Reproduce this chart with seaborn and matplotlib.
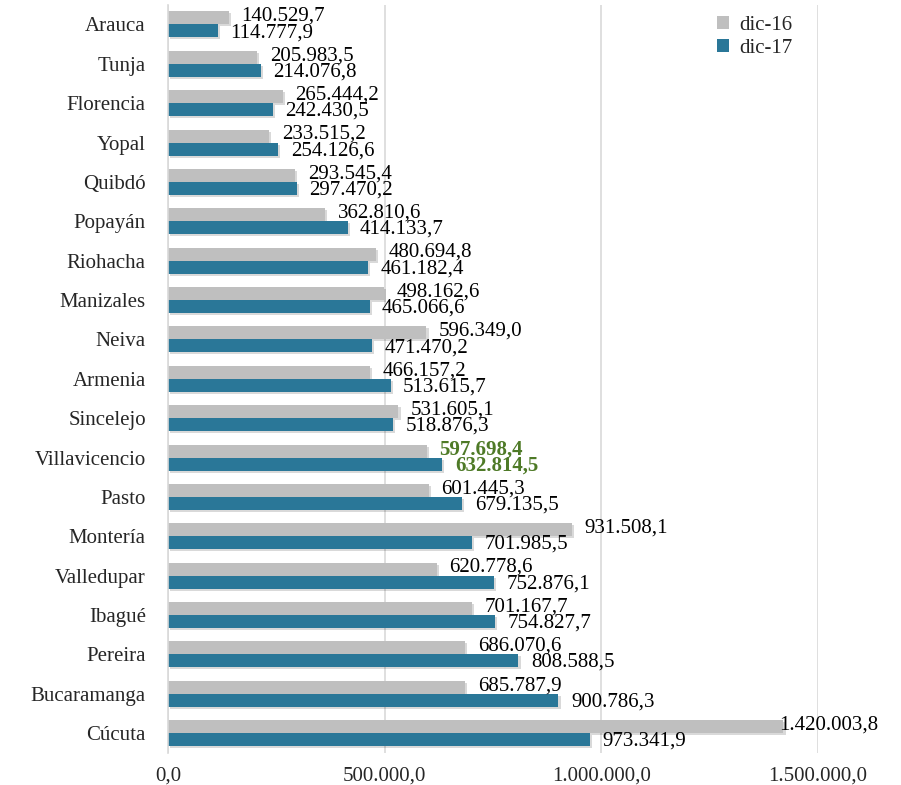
import pandas as pd
import matplotlib
matplotlib.use("Agg")
import matplotlib.pyplot as plt
import matplotlib.patheffects as pe
import seaborn as sns

# Cartera por ciudad, dic-16 vs dic-17
ciudades = ["Arauca", "Tunja", "Florencia", "Yopal", "Quibdó", "Popayán", "Riohacha",
            "Manizales", "Neiva", "Armenia", "Sincelejo", "Villavicencio", "Pasto",
            "Montería", "Valledupar", "Ibagué", "Pereira", "Bucaramanga", "Cúcuta"]
dic16 = [140529.7, 205983.5, 265444.2, 233515.2, 293545.4, 362810.6, 480694.8,
         498162.6, 596349.0, 466157.2, 531605.1, 597698.4, 601445.3,
         931508.1, 620778.6, 701167.7, 686070.6, 685787.9, 1420003.8]
dic17 = [114777.9, 214076.8, 242430.5, 254126.6, 297470.2, 414133.7, 461182.4,
         465066.6, 471470.2, 513615.7, 518876.3, 632814.5, 679135.5,
         701985.5, 752876.1, 754827.7, 808588.5, 900786.3, 973341.9]
series = ["dic-16", "dic-17"]
xticks = [0, 500000, 1000000, 1500000]
destacada = "Villavicencio"

gris = "#BFBFBF"
azul = "#2A7798"
verde = "#4E7A27"


def fmt(v):
    # formato colombiano: punto de miles, coma decimal
    return f"{v:,.1f}".replace(",", "X").replace(".", ",").replace("X", ".")


df = pd.DataFrame({
    "ciudad": ciudades * 2,
    "serie": [series[0]] * len(ciudades) + [series[1]] * len(ciudades),
    "valor": dic16 + dic17,
})

sns.set_style("white")
plt.rcParams["font.family"] = ["Liberation Serif", "DejaVu Serif"]

fig = plt.figure(figsize=(9.01, 7.85), dpi=100)
ax = fig.add_axes([0.1865, 0.041, 0.7215, 0.953])

sns.barplot(data=df, y="ciudad", x="valor", hue="serie", orient="h",
            palette=[gris, azul], width=0.66, saturation=1, ax=ax)

shadow = [pe.SimplePatchShadow(offset=(1.5, -1.5), shadow_rgbFace="black", alpha=0.15), pe.Normal()]
for p in ax.patches:
    p.set_path_effects(shadow)
    p.set_linewidth(0)

# etiquetas de datos (gris un poco arriba, azul un poco abajo)
for cont, vals, dy in zip(ax.containers, [dic16, dic17], [1.2, -1.2]):
    for bar, v, c in zip(cont, vals, ciudades):
        y = bar.get_y() + bar.get_height() / 2
        dx = 9 if v < 1.3e6 else -3
        bold = c == destacada
        ax.annotate(fmt(v), (v, y), xytext=(dx, dy), textcoords="offset points",
                    ha="left", va="center", fontsize=15,
                    color=verde if bold else "black",
                    fontweight="bold" if bold else "normal",
                    annotation_clip=False)

ax.set_xlim(0, 1500000)
ax.set_xticks(xticks)
ax.set_xticklabels([fmt(t) for t in xticks])
ax.tick_params(axis="x", labelsize=15, pad=10, length=0)
ax.tick_params(axis="y", labelsize=15, pad=16, length=0)
ax.set_xlabel("")
ax.set_ylabel("")

ax.grid(axis="x", color="#D9D9D9", linewidth=1.2)
ax.set_axisbelow(True)
for s in ["top", "right", "bottom"]:
    ax.spines[s].set_visible(False)
ax.spines["left"].set_color("#D9D9D9")
ax.spines["left"].set_linewidth(1.2)

leg = ax.legend(loc="upper right", bbox_to_anchor=(0.99, 1.01), frameon=False,
                fontsize=15, handlelength=0.6, handleheight=0.6, handletextpad=0.5,
                labelspacing=0.2)
for h in leg.legend_handles:
    h.set_path_effects([])

fig.savefig("out.png", dpi=100)
